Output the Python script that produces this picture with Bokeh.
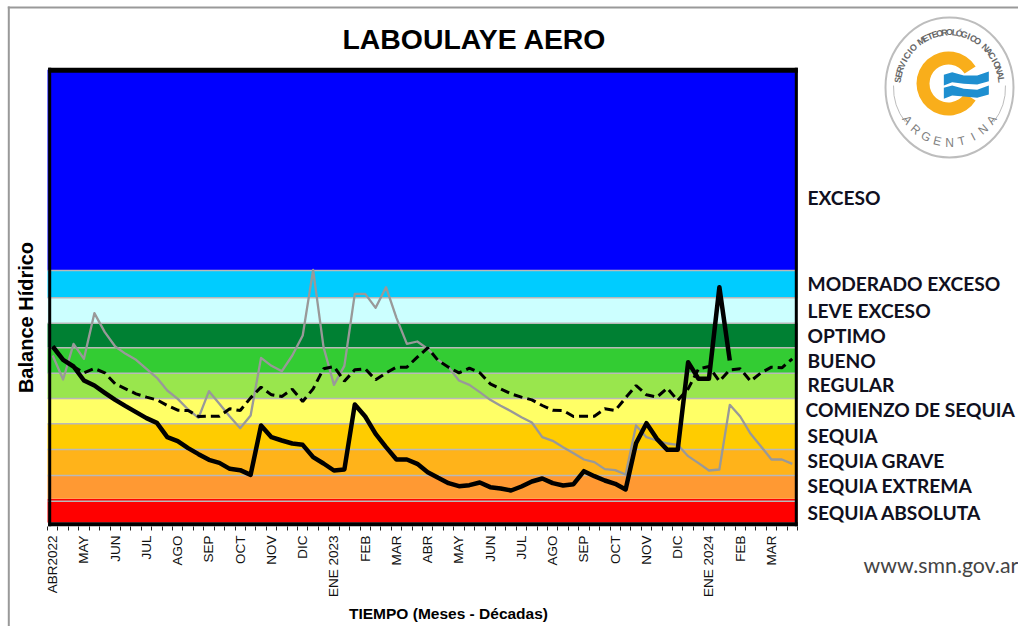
import math
from bokeh.plotting import figure
from bokeh.models import Range1d, LinearAxis, FixedTicker, ColumnDataSource
from bokeh.core.properties import value
from bokeh.embed import file_html
from bokeh.resources import INLINE

# ---- data ----
months = ["ABR2022","MAY","JUN","JUL","AGO","SEP","OCT","NOV","DIC","ENE 2023","FEB","MAR",
          "ABR","MAY","JUN","JUL","AGO","SEP","OCT","NOV","DIC","ENE 2024","FEB","MAR"]
band_names = ["SEQUIA ABSOLUTA","SEQUIA EXTREMA","SEQUIA GRAVE","SEQUIA","COMIENZO DE SEQUIA",
              "REGULAR","BUENO","OPTIMO","LEVE EXCESO","MODERADO EXCESO","EXCESO"]
band_bottom = [0, 71, 141, 219, 296, 372, 448, 524, 598, 674, 756]
band_top = [71, 141, 219, 296, 372, 448, 524, 598, 674, 756, 1358]
band_color = ["#FF0000","#FF9933","#FFB31A","#FFCC00","#FFFF66","#99E64D","#33CC33","#008033",
              "#CCFFFF","#00CCFF","#0000FF"]
separators = [64, 141, 219, 296, 372, 448, 524, 598, 674, 756]
actual = [528,488,468,426,411,389,368,349,331,313,299,256,244,223,205,188,179,161,157,143,291,256,
          246,237,233,196,177,156,159,354,318,266,226,189,189,176,151,134,118,109,112,120,106,102,
          96,108,123,132,118,111,115,154,139,126,116,99,238,298,251,218,218,481,431,431,706,486]
normal = [528,488,468,449,462,449,416,401,386,376,368,351,337,336,318,319,319,341,336,374,406,383,
          378,400,363,401,461,468,424,458,461,428,449,466,466,496,524,486,466,449,463,449,416,401,
          386,376,368,351,337,336,318,319,319,341,336,374,411,383,376,403,366,401,461,468,424,458,
          461,424,449,466,464,491]
previous = [501,429,536,491,628,571,528,506,488,461,434,396,371,339,314,394,356,318,283,321,494,470,
            454,501,561,758,526,413,470,686,686,644,706,614,536,543,521,488,466,426,413,391,368,350,
            334,316,300,256,245,226,208,189,181,160,157,144,291,256,246,237,233,199,178,156,159,353,
            318,266,228,189,189,176]
band_label_py = [512,485,460,435,409,384,360,335,310,283,197]

# ---- geometry helpers (page pixels to data) ----
W, H = 1018, 626
OFF = 0
PPX = 750 / 72
x0 = -0.5 - (47 - OFF) / PPX
def X(px): return x0 + (px - OFF) / PPX
def Y(py): return 3 * (522 - py)

p = figure(width=W, height=H, output_backend="svg", toolbar_location=None, min_border=0,
           x_range=Range1d(x0, x0 + W / PPX), y_range=Range1d(Y(OFF + H), Y(OFF)),
           x_axis_type=None, y_axis_type=None)
p.grid.visible = False
p.outline_line_color = None
p.background_fill_color = "white"
p.border_fill_color = "white"

# page edge
p.quad(left=X(7.3), right=X(9.3), top=Y(6), bottom=Y(H), fill_color="#999999", line_color=None)
p.quad(left=X(7.3), right=X(W), top=Y(6), bottom=Y(8), fill_color="#999999", line_color=None)

# bands
xL, xR = -0.5, 71.5
p.quad(left=xL, right=xR, bottom=band_bottom, top=band_top, fill_color=band_color, line_color=None)
p.segment(x0=[xL] * len(separators), x1=[xR] * len(separators), y0=separators, y1=separators,
          line_color="#B9B9B9", line_width=1.5)

# series
xs = list(range(72))
p.line(xs, previous, line_color="#999999", line_width=2.3, line_join="round")
p.line(xs, normal, line_color="black", line_width=3, line_dash="9 5")
p.line(list(range(len(actual))), actual, line_color="black", line_width=4.5, line_join="round")

# frame
p.quad(left=[X(47.7), X(794.3), X(47.7), X(47.7)], right=[X(50.7), X(797.3), X(797.3), X(797.3)],
       top=[Y(67.3), Y(67.3), Y(72.3), Y(525.7)], bottom=[Y(525.7), Y(525.7), Y(67.3), Y(521.7)],
       fill_color="black", line_color=None)

# bottom axis
ax = LinearAxis(fixed_location=Y(526))
ax.ticker = FixedTicker(ticks=[3 * i for i in range(len(months))],
                        minor_ticks=[i - 0.5 for i in range(73)])
ax.major_label_overrides = {3 * i: m for i, m in enumerate(months)}
ax.major_label_orientation = math.pi / 2
ax.major_label_text_font = "Liberation Sans"
ax.major_label_text_font_size = "13.5px"
ax.major_label_text_color = "#111111"
ax.major_label_standoff = 5
ax.axis_line_color = None
ax.major_tick_line_color = None
ax.major_tick_out = 4
ax.major_tick_in = 0
ax.minor_tick_out = 4
ax.minor_tick_in = 0
ax.minor_tick_line_color = "#222222"
p.add_layout(ax, "below")

# texts
def txt(px, py, s, size, font="Liberation Sans", style="bold", color="black", align="left", angle=0.0):
    p.text([X(px)], [Y(py)], text=[s], text_font=value(font), text_font_style=style,
           text_font_size=f"{size}px", text_color=color, text_align=align,
           text_baseline="middle", angle=angle)

txt(474, 38, "LABOULAYE AERO", 28.4, align="center")
txt(25, 317, "Balance Hídrico", 20, align="center", angle=math.pi / 2)
txt(448, 613, "TIEMPO (Meses - Décadas)", 15.5, align="center")
for name, py in zip(band_names, band_label_py):
    txt(805 if name.startswith("COMIENZO") else 807, py, name, 19.2, font="Lato", color="#101020")
txt(863, 564, "www.smn.gov.ar", 21.3, font="Lato", style="normal", color="#444444")

# logo
cx, cy = 949, 87
p.ellipse([X(cx)], [Y(cy)], width=128 / PPX, height=140 * 3, fill_color="white",
          line_color="#BDBDBD", line_width=2)
p.annular_wedge([X(948)], [Y(83)], inner_radius=19, outer_radius=32, inner_radius_units="screen",
                outer_radius_units="screen", start_angle=math.radians(32), end_angle=math.radians(328),
                fill_color="#F9AE1B", line_color=None)
wave1 = [(190,193),(215,185),(250,195),(290,195),(325,183),(325,212),(290,222),(250,220),(215,215),(190,225)]
wave2 = [(190,232),(215,225),(250,235),(290,238),(325,225),(325,252),(290,262),(250,258),(215,255),(190,265)]
for wave in (wave1, wave2):
    p.patch([X(880 + a / 3) for a, b in wave], [Y(10 + b / 3) for a, b in wave],
            fill_color="#1E8FD0", line_color=None)
for a0, a1 in ((178, 218), (322, 362)):
    p.arc([X(cx)], [Y(cy)], radius=56, radius_units="screen", start_angle=math.radians(a0),
          end_angle=math.radians(a1), line_color="#BDBDBD", line_width=1)

def arc_text(s, r, a_start, a_end, size, color, top=True):
    n = len(s)
    angs = [a_start + (a_end - a_start) * i / (n - 1) for i in range(n)]
    src = ColumnDataSource(dict(
        x=[X(cx + r * math.cos(math.radians(a))) for a in angs],
        y=[Y(cy - r * 1.06 * math.sin(math.radians(a))) for a in angs],
        t=list(s),
        ang=[math.radians(a - 90 if top else a + 90) for a in angs]))
    p.text("x", "y", text="t", angle="ang", source=src, text_font=value("Liberation Sans"),
           text_font_style="bold" if top else "normal", text_font_size=f"{size}px",
           text_color=color, text_align="center", text_baseline="middle")

arc_text("SERVICIO METEOROLÓGICO NACIONAL", 52, 172, 8, 9, "#666666", True)
arc_text("ARGENTINA", 52, 216, 324, 12, "#808080", False)

open("out.html", "w").write(file_html(p, INLINE))
